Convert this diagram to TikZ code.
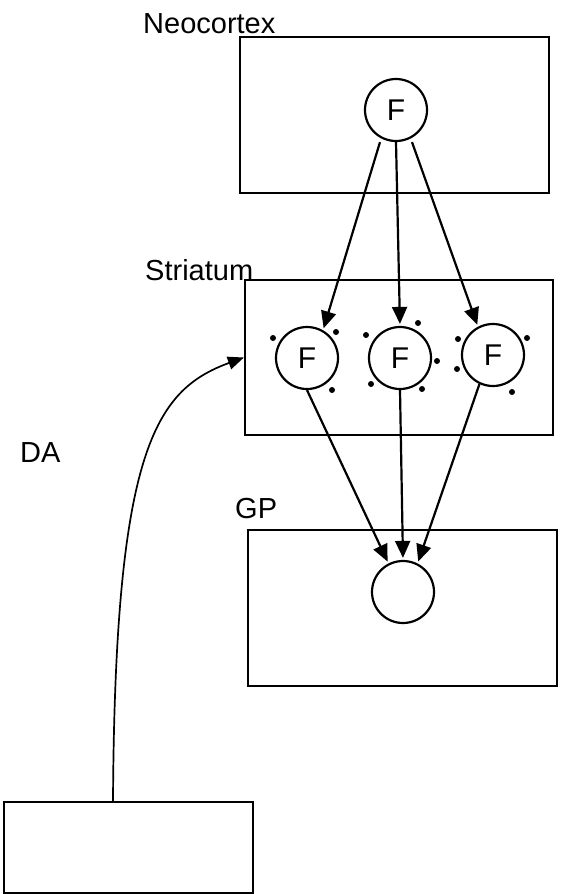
\documentclass[tikz,border=0pt]{standalone}
\usepackage{fontspec}
\setmainfont{Liberation Sans}
\usetikzlibrary{arrows.meta}
\begin{document}
\begin{tikzpicture}[x=1pt,y=-1pt,
  region/.style={draw, rectangle, line width=2.2pt, inner sep=0pt},
  cell/.style={draw, circle, line width=2.2pt, minimum size=62pt, inner sep=0pt, font=\fontsize{30}{30}\selectfont},
  lab/.style={anchor=base west, inner sep=0pt, font=\fontsize{29}{29}\selectfont},
  proj/.style={line width=2.2pt, -{Triangle[length=17pt,width=15pt]}, shorten >=2pt},
  daproj/.style={line width=1.7pt, -{Triangle[length=16pt,width=13pt]}},
  dotm/.style={fill=black}]
\useasboundingbox (0,0) rectangle (566,894);
% regions
\node[region, minimum width=309pt, minimum height=156pt] (neo) at (394.5,115) {};
\node[region, minimum width=308pt, minimum height=155pt] (str) at (399,357.5) {};
\node[region, minimum width=309pt, minimum height=156pt] (gpb) at (402.5,608) {};
\node[region, minimum width=249pt, minimum height=91pt] (bot) at (128.5,847.5) {};
% labels
\node[lab] (lneo) at (143,33) {Neocortex};
\node[lab] (lstr) at (145,280) {Striatum};
\node[lab] (lgp) at (235,518) {GP};
\node[lab] (lda) at (20,462) {DA};
% cells
\node[cell] (nf) at (396,110) {F};
\node[cell] (s1) at (307,358) {F};
\node[cell] (s2) at (400,358) {F};
\node[cell] (s3) at (493,355) {F};
\node[cell] (gp) at (403,592) {};
% dots around striatal cells
\foreach \p in {(273,338),(336,332),(332,390),
                (366,335),(418,323),(437,361),(371,384),(422,389),
                (458,339),(527,338),(457,369),(512,392)}
  \fill[dotm] \p circle (3pt);
% projections
\draw[proj] ([xshift=-16pt]nf.south) -- (s1.60);
\draw[proj] (nf.south) -- (s2.north);
\draw[proj] ([xshift=16pt]nf.south) -- (s3.118);
\draw[proj] (s1.south) -- (gp.117);
\draw[proj] (s2.south) -- (gp.north);
\draw[proj] (s3.245) -- (gp.63);
% DA pathway
\draw[daproj] ([xshift=-15.5pt]bot.north) .. controls (115,450) and (155,390) .. (str.west);
\end{tikzpicture}
\end{document}
